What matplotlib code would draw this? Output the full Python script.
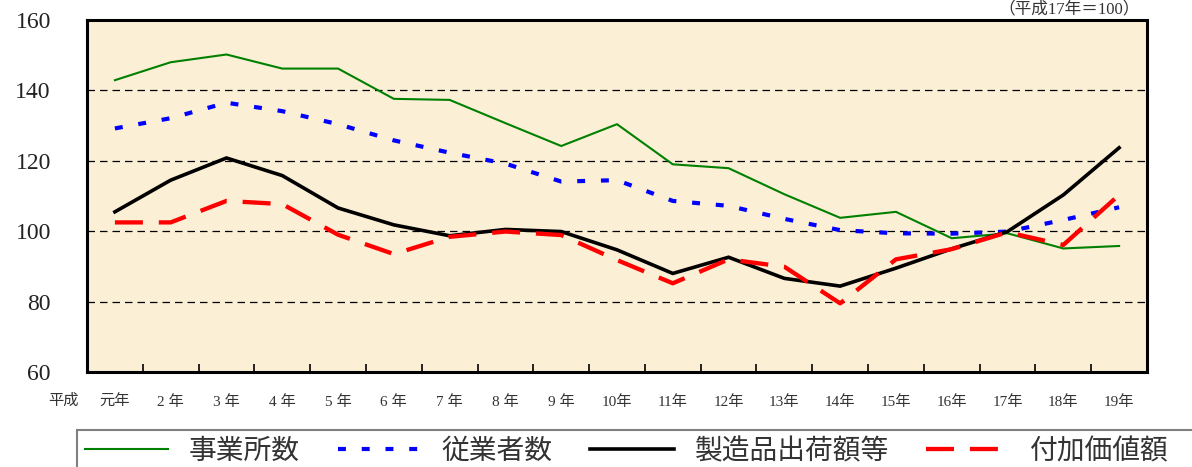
import matplotlib
matplotlib.use("Agg")
import matplotlib.pyplot as plt
from matplotlib.patches import Rectangle

plt.rcParams['font.family'] = ['Liberation Serif', 'Noto Sans CJK JP', 'DejaVu Sans']

categories = ["元年", "2 年", "3 年", "4 年", "5 年", "6 年", "7 年", "8 年", "9 年", "10年",
              "11年", "12年", "13年", "14年", "15年", "16年", "17年", "18年", "19年"]
establishments = [142.9, 148.0, 150.2, 146.2, 146.2, 137.6, 137.3, 130.7, 124.2, 130.4,
                  119.0, 117.9, 110.5, 103.8, 105.5, 98.0, 99.4, 95.1, 95.8]
employees = [129.2, 132.1, 136.5, 134.1, 130.4, 125.8, 122.3, 119.2, 114.1, 114.5,
             108.6, 107.2, 103.5, 100.3, 99.4, 99.3, 99.9, 103.2, 106.8]
shipments = [105.5, 114.5, 120.8, 115.8, 106.6, 101.8, 98.7, 100.5, 99.9, 94.7,
             88.0, 92.6, 86.6, 84.4, 89.5, 95.0, 99.9, 110.3, 123.7]
value_added = [102.5, 102.5, 108.6, 107.7, 99.0, 93.5, 98.4, 99.9, 98.9, 91.8,
               85.2, 92.0, 89.9, 79.5, 92.0, 94.9, 99.7, 96.1, 110.3]
series_names = ["事業所数", "従業者数", "製造品出荷額等", "付加価値額"]
yticks = [60, 80, 100, 120, 140, 160]

W, H = 1192, 467
fig = plt.figure(figsize=(W / 100, H / 100), dpi=100)
ax = fig.add_axes([87 / W, 1 - 372 / H, (1147 - 87) / W, (372 - 20) / H])
ax.set_facecolor('#fbefd6')

x = list(range(len(categories)))
l1, = ax.plot(x, establishments, color='#008000', lw=1.5, zorder=3)
l2, = ax.plot(x, employees, color='#0000ff', lw=3.0, dashes=(1.9, 3.8), zorder=4)
l3, = ax.plot(x, shipments, color='black', lw=2.6, zorder=5, solid_joinstyle='miter')
l4, = ax.plot(x, value_added, color='#ff0000', lw=3.1, dashes=(6.5, 3.7), zorder=6)

ax.set_xlim(-0.5, len(categories) - 0.5)
ax.set_ylim(60, 160)
ax.set_yticks(yticks)
ax.set_yticklabels([str(v) for v in yticks], fontsize=17, color='#222222',
                   family='Liberation Serif')
ax.tick_params(axis='y', length=0, pad=26)

# grid lines
for v in [80, 100, 120, 140]:
    ax.axhline(v, color='black', lw=0.9, dashes=(6, 4), zorder=1)

# x ticks at category boundaries, labels at centers
ax.set_xticks([i + 0.5 for i in range(len(categories) - 1)])
ax.set_xticklabels([])
ax.tick_params(axis='x', direction='in', length=6, width=1.2, color='black')
for i, c in enumerate(categories):
    ax.text(i, -0.085, c, transform=ax.get_xaxis_transform(), ha='center', va='center',
            fontsize=11, color='#333333')
fig.text(63 / W, 1 - 401 / H, "平成", ha='center', va='center', fontsize=11, color='#333333')

for s in ax.spines.values():
    s.set_linewidth(2.2)
    s.set_color('black')

# unit note
fig.text(1140 / W, 1 - 1 / H, "（平成17年＝100）", ha='right', va='top', fontsize=12,
         color='#333333')

# legend box
fig.patches.append(Rectangle((77 / W, -0.2), 1.2, 0.2 + (1 - 430 / H), transform=fig.transFigure,
                             facecolor='white', edgecolor='#808080', lw=1.5, zorder=0))
leg = fig.legend([l1, l2, l3, l4], series_names, loc='center left',
                 bbox_to_anchor=(60 / W, 1 - 451 / H), ncol=4, frameon=False,
                 handlelength=3.0, handletextpad=0.75, columnspacing=1.35,
                 prop={'family': ['Noto Sans CJK JP'], 'size': 20})
for t in leg.get_texts():
    t.set_color('#333333')

fig.savefig('out.png', dpi=100)
